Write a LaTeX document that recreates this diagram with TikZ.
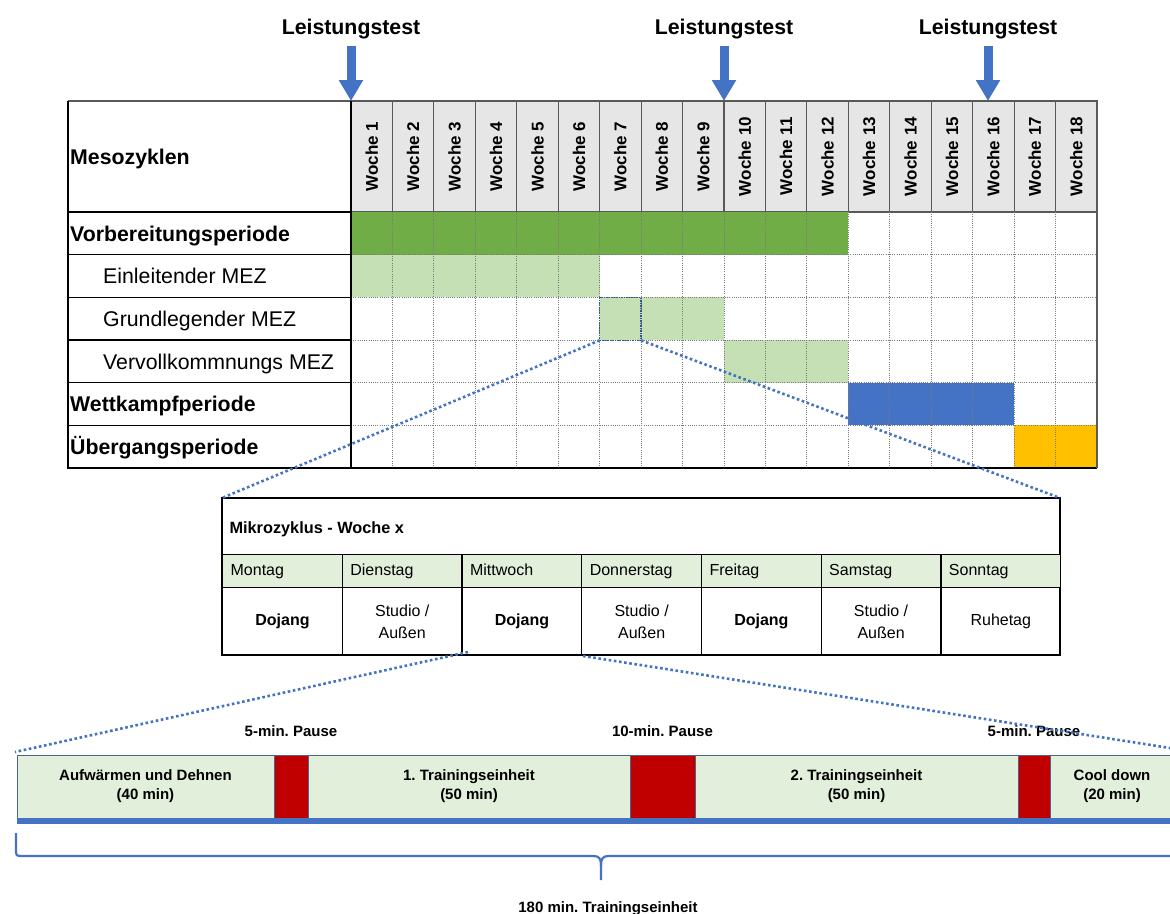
\documentclass[tikz,border=0pt]{standalone}
\usepackage{fontspec}
\setmainfont{Liberation Sans}
\usetikzlibrary{positioning,calc,arrows.meta}

\definecolor{vorgruen}{HTML}{70AD47}
\definecolor{mezgruen}{HTML}{C5E0B4}
\definecolor{blassgruen}{HTML}{E2EFDA}
\definecolor{wkblau}{HTML}{4472C4}
\definecolor{uebgelb}{HTML}{FFC000}
\definecolor{pausrot}{HTML}{C00000}
\definecolor{kopfgrau}{HTML}{E7E6E6}
\definecolor{liniengrau}{HTML}{595959}
\definecolor{rahmenblau}{HTML}{4A6590}
\definecolor{zellblau}{HTML}{2F5597}

\newcommand{\dojang}{\textbf{Dojang}}
\newcommand{\studio}{Studio /\\Außen}
\frenchspacing

\begin{document}
\begin{tikzpicture}[x=1pt, y=-1pt,
    fett/.style={font=\fontsize{21.3}{25}\selectfont\bfseries},
    zeilentext/.style={font=\fontsize{21.3}{25}\selectfont},
    wochenkopf/.style={rotate=90, fill=kopfgrau, draw=liniengrau, line width=1.2pt,
        minimum width=111pt, minimum height=41.44pt, inner sep=0pt,
        font=\fontsize{17}{20}\selectfont\bfseries},
    raster/.style={liniengrau!80, line width=0.8pt, dash pattern=on 1pt off 1.2pt},
    testpfeil/.style={wkblau, line width=9pt, -{Triangle[length=21pt,width=23pt]}},
    zoomlinie/.style={wkblau, line width=2.6pt, dash pattern=on 2.6pt off 2.6pt},
    tagkopf/.style={fill=blassgruen, draw, line width=1.3pt, anchor=north west,
        minimum width=119.71pt, minimum height=33pt, text width=103.71pt, inner xsep=8pt,
        text height=11.5pt, text depth=3.5pt, align=left, font=\fontsize{16}{19}\selectfont},
    tagzelle/.style={draw, line width=1.3pt, anchor=north west, minimum width=119.71pt,
        minimum height=68pt, align=center, font=\fontsize{16}{21.5}\selectfont},
    einheit/.style={fill=blassgruen, draw=rahmenblau, line width=1pt, anchor=north west,
        minimum height=63pt, inner sep=0pt, outer sep=0pt, align=center,
        font=\fontsize{15}{19}\selectfont\bfseries},
    pausenblock/.style={einheit, fill=pausrot},
    pausetext/.style={font=\fontsize{15}{18}\selectfont\bfseries},
    klammer/.style={wkblau, line width=2.2pt}
]
\useasboundingbox (0,0) rectangle (1170,913);

% Kopfzeile
\node[fett, anchor=base west, inner sep=0pt] (meso) at (70,164) {Mesozyklen};
\foreach \i in {1,...,18} {
    \pgfmathsetmacro{\xm}{351+(\i-0.5)*41.444}
    \node[wochenkopf] (w\i) at (\xm,156.5) {Woche \i};
}

% Perioden und MEZ (Zeile / von Woche / bis Woche / Farbe)
\foreach \k/\von/\bis/\farbe in {0/0/12/vorgruen, 1/0/6/mezgruen, 2/6/9/mezgruen, 3/9/12/mezgruen, 4/12/16/wkblau, 5/16/18/uebgelb}
    \fill[\farbe] (351+41.444*\von,212+42.667*\k) rectangle (351+41.444*\bis,254.667+42.667*\k);

% Raster
\foreach \i in {1,...,17}
    \draw[raster] (351+41.444*\i,212) -- (351+41.444*\i,468);
\foreach \k in {1,...,5}
    \draw[raster] (351,212+42.667*\k) -- (1097,212+42.667*\k);

% Zeilenbeschriftung
\foreach \k/\x/\stil/\beschr in {0/70/fett/Vorbereitungsperiode, 1/103/zeilentext/Einleitender MEZ, 2/103/zeilentext/Grundlegender MEZ, 3/103/zeilentext/Vervollkommnungs MEZ, 4/70/fett/Wettkampfperiode, 5/70/fett/Übergangsperiode}
    \node[\stil, anchor=base west, inner sep=0pt] (z\k) at (\x,241+42.667*\k) {\beschr};
\foreach \k in {0,...,5}
    \draw[line width=1.2pt] (68,212+42.667*\k) -- (351,212+42.667*\k);
\draw[liniengrau, line width=1.2pt] (68,101) -- (351,101);
\draw[line width=1.2pt] (68,101) -- (68,468) -- (1097,468);
\draw[line width=1.2pt] (351,101) -- (351,468);
\draw[liniengrau, line width=1.4pt] (1097,101) -- (1097,468);

% Woche 7 wird vergroessert
\node[draw=zellblau, line width=1.5pt, dash pattern=on 1.5pt off 1pt, minimum width=41.44pt,
    minimum height=42.67pt, inner sep=0pt, outer sep=0pt] (zoomzelle) at (351+6.5*41.444,319) {};

% Leistungstests
\foreach \n/\x in {1/351, 2/724, 3/988} {
    \node[fett, anchor=base] (lt\n) at (\x,34) {Leistungstest};
    \coordinate (pk\n) at (\x,101);
    \draw[testpfeil, shorten <=4pt] (lt\n) -- (pk\n);
}

% Mikrozyklus
\node[draw, line width=1.5pt, minimum width=838pt, minimum height=157pt, anchor=north west,
    inner sep=0pt, outer sep=0pt] (mikro) at (222,498) {};
\node[font=\fontsize{16.3}{19}\selectfont\bfseries, anchor=west] (mtitel) at (226,529) {Mikrozyklus - Woche x};
\foreach \wtag/\inhalt [count=\n] in {Montag/\dojang, Dienstag/\studio, Mittwoch/\dojang, Donnerstag/\studio, Freitag/\dojang, Samstag/\studio, Sonntag/Ruhetag} {
    \node[tagkopf] (t\n) at (222+119.714*\n-119.714,554) {\wtag};
    \node[tagzelle] (c\n) at (222+119.714*\n-119.714,587) {\inhalt};
}

% Trainingseinheit
\node[einheit, minimum width=257pt] (aufw) at (17,755) {Aufwärmen und Dehnen\\(40 min)};
\node[pausenblock, minimum width=34pt, right=0pt of aufw] (p1) {};
\node[einheit, minimum width=322pt, right=0pt of p1] (te1) {1. Trainingseinheit\\(50 min)};
\node[pausenblock, minimum width=65pt, right=0pt of te1] (p2) {};
\node[einheit, minimum width=323pt, right=0pt of p2] (te2) {2. Trainingseinheit\\(50 min)};
\node[pausenblock, minimum width=32pt, right=0pt of te2] (p3) {};
\node[einheit, minimum width=124pt, right=0pt of p3] (cool) {Cool down\\(20 min)};
\draw[wkblau, line width=6pt] ([yshift=-3pt]aufw.south west) -- ([yshift=-3pt]cool.south east);

\foreach \p/\dauer in {p1/5, p2/10, p3/5}
    \node[pausetext, above=15pt of \p] (txt\p) {\dauer-min. Pause};

% Klammer
\draw[klammer] (16,833) -- (16,849) .. controls (16,856) .. (23,856) -- (593,856)
    .. controls (599,856) and (601,858) .. (601,866) -- (601,880);
\draw[klammer] (1172,856) -- (609,856) .. controls (603,856) and (601,858) .. (601,866);
\node[pausetext, anchor=base] (gesamt) at (608,912) {180 min. Trainingseinheit};

% Zoomlinien
\coordinate (mz1) at (468,652);
\coordinate (mz2) at (583,656);
\coordinate (ez1) at (15,752);
\coordinate (ez2) at (1170,748);
\draw[zoomlinie] (zoomzelle.south west) -- (mikro.north west);
\draw[zoomlinie] (zoomzelle.south east) -- (mikro.north east);
\draw[zoomlinie] (mz1) -- (ez1);
\draw[zoomlinie] (mz2) -- (ez2);
\end{tikzpicture}
\end{document}
